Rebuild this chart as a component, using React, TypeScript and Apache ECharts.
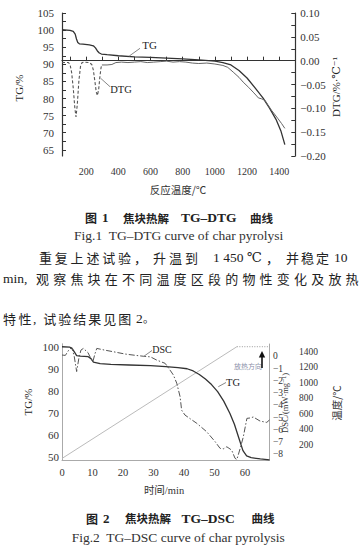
import React, { useEffect, useRef } from "react";
import * as echarts from "echarts";

// ---------- Figure 1 (TG-DTG vs temperature) ----------
const fig1TgTemp = [50, 100, 120, 132, 140, 148, 158, 180, 220, 245, 258, 270, 282, 295, 330, 400, 500, 600, 700, 800, 900, 1000, 1050, 1100, 1150, 1200, 1250, 1300, 1340, 1380, 1410, 1435];
const fig1TgVal = [100.1, 99.9, 99.6, 98.8, 97.4, 96.4, 96.0, 95.9, 95.7, 95.4, 94.8, 93.9, 93.3, 93.0, 92.8, 92.5, 92.2, 92.0, 91.8, 91.6, 91.3, 90.9, 90.5, 89.8, 88.2, 86.0, 83.1, 80.1, 77.2, 73.9, 70.6, 66.5];

const fig1DtgTemp = [50, 90, 100, 110, 120, 130, 137, 145, 155, 165, 175, 190, 220, 235, 245, 255, 263, 270, 278, 286, 293, 298, 330, 360, 385, 420, 460, 500, 540, 580, 620, 660, 700, 740, 780, 820, 860, 900, 950, 1000, 1050, 1080, 1114, 1150, 1176, 1210, 1238, 1260, 1270, 1290, 1311, 1330, 1352, 1375, 1393, 1415, 1435];
const fig1DtgVal = [-0.004, -0.004, -0.008, -0.025, -0.058, -0.1, -0.118, -0.092, -0.042, -0.012, -0.004, -0.003, -0.004, -0.008, -0.02, -0.045, -0.066, -0.073, -0.06, -0.032, -0.014, -0.009, -0.009, -0.008, -0.004, -0.003, -0.004, -0.003, -0.002, -0.004, -0.003, -0.002, -0.001, -0.003, -0.002, -0.003, -0.005, -0.006, -0.005, -0.007, -0.01, -0.014, -0.024, -0.035, -0.045, -0.056, -0.066, -0.074, -0.078, -0.08, -0.083, -0.093, -0.104, -0.114, -0.122, -0.132, -0.142];
const fig1DashedUntil = 298; // DTG drawn dashed in the early peaks

// ---------- Figure 2 (TG-DSC vs time) ----------
const fig2TgTime = [0, 2.6, 3.4, 4.2, 4.8, 6, 8.6, 9.5, 10.3, 12.5, 16, 22, 29, 34, 38, 41, 43, 45, 47, 49, 51, 53, 55, 56.5, 58, 59.3, 60.5, 62, 65, 68];
const fig2TgVal = [100.2, 100, 99.2, 97.5, 96.2, 95.9, 95.7, 94.8, 93.2, 92.5, 92.2, 91.9, 91.6, 91.2, 90.7, 90.2, 89.2, 87.6, 85.5, 83.0, 79.8, 75.5, 70.0, 65.0, 58.5, 53.0, 50.6, 49.8, 49.2, 48.8];

const fig2DscTime = [0, 1.1, 2.2, 3.2, 4.0, 4.8, 5.5, 6.2, 7.0, 8.5, 9.5, 10.1, 10.8, 11.4, 14, 16.8, 20.7, 24.5, 26.7, 29, 31, 33.8, 35.4, 36.5, 37.6, 38.7, 39.2, 40.3, 42, 44.2, 47.4, 50.2, 51.8, 53, 54, 55.6, 56.7, 57.3, 58.4, 59.4, 60.6, 61.6, 62.7, 64.9, 67.1, 68];
const fig2DscVal = [0.1, 0.07, 0.5, 0.73, 0.0, -1.25, -0.2, 0.5, 0.64, 0.3, -0.2, -0.45, 0.2, 0.64, 0.5, 0.37, 0.18, 0.06, 0.0, -0.05, -0.31, -0.58, -1.13, -1.53, -2.2, -3.3, -4.4, -4.8, -5.1, -5.48, -6.16, -6.98, -7.52, -7.55, -7.39, -7.66, -8.33, -8.43, -7.52, -6.6, -5.07, -5.04, -4.96, -5.29, -5.4, -5.2];

const furnaceTime = [0, 57.3, 68];
const furnaceTemp = [20, 1465, 1465];

// tick label sets
const fig1XLabels = [200, 400, 600, 800, 1000, 1200, 1400];
const fig2XLabels = [0, 10, 20, 30, 40, 50, 60];
const fig2TempLabels = [200, 400, 600, 800, 1000, 1200, 1400];

const SERIF = "'Liberation Serif', 'Times New Roman', 'DejaVu Serif', 'Noto Sans CJK SC', serif";
const CJK = "'Noto Sans CJK SC', sans-serif";
const INK = "#222";
const AX1 = "#333";
const AX2 = "#aaa";

const pairs = (xs: number[], ys: number[]) => xs.map((x, i) => [x, ys[i]]);
const minus = (v: number, d: number) => {
  const s = Math.abs(v).toFixed(d);
  return v < -1e-9 ? "\u2212" + s : s;
};

function txt(x: number, y: number, text: string, size: number, o: any = {}) {
  return {
    type: "text",
    x,
    y,
    rotation: o.rot || 0,
    silent: true,
    z: 100,
    style: {
      text,
      fontSize: size,
      fontFamily: o.family || SERIF,
      fontWeight: o.weight || "normal",
      fill: o.fill || INK,
      textAlign: o.align || "left",
      align: o.align || "left",
      textVerticalAlign: "middle",
      verticalAlign: "middle",
    },
  };
}
function spread(str: string, x0: number, pitch: number, y: number, size: number, o: any = {}) {
  return Array.from(str).map((ch, i) => txt(x0 + i * pitch, y, ch, size, { family: CJK, ...o }));
}
function seg(x1: number, y1: number, x2: number, y2: number, color = "#888", w = 1) {
  return { type: "line", silent: true, z: 100, shape: { x1, y1, x2, y2 }, style: { stroke: color, lineWidth: w } };
}

function buildOption() {
  const tg1 = pairs(fig1TgTemp, fig1TgVal);
  const dtgAll = pairs(fig1DtgTemp, fig1DtgVal);
  const dtgEarly = dtgAll.filter((p) => p[0] <= fig1DashedUntil);
  const dtgLate = dtgAll.filter((p) => p[0] >= fig1DashedUntil);
  const tg2 = pairs(fig2TgTime, fig2TgVal);
  const dsc = pairs(fig2DscTime, fig2DscVal);
  const furnace = pairs(furnaceTime, furnaceTemp);

  const lbl1 = { fontFamily: SERIF, color: AX1 };
  const noSplit = { show: false };

  const graphics: any[] = [
    // Figure 1 axis names
    txt(19, 88, "TG/%", 11, { rot: Math.PI / 2, align: "center" }),
    txt(336, 87, "DTG/%·℃⁻¹", 11, { rot: Math.PI / 2, align: "center" }),
    txt(178, 189, "反应温度/℃", 10.5, { align: "center", family: CJK, fill: "#333" }),
    // Figure 1 curve labels
    seg(129.3, 56, 140, 48.3),
    txt(149.5, 45, "TG", 11, { align: "center" }),
    seg(100.7, 78.3, 110, 86.7),
    txt(121, 89.5, "DTG", 10.5, { align: "center" }),
    // Figure 1 captions
    txt(85, 217.7, "图", 12, { family: CJK, weight: "bold" }),
    txt(102, 217.7, "1", 13, { weight: "bold" }),
    txt(123, 217.7, "焦块热解", 11.5, { family: CJK, weight: "bold" }),
    txt(181, 217.7, "TG–DTG", 13.5, { weight: "bold" }),
    txt(250, 217.7, "曲线", 11.5, { family: CJK, weight: "bold" }),
    txt(74, 235.5, "Fig.1  TG–DTG curve of char pyrolysi", 13.5, { fill: "#333" }),
    // paragraph
    ...spread("重复上述试验", 39, 15.8, 257.5, 13),
    txt(134, 257.5, "，", 13, { family: CJK }),
    ...spread("升温到", 153, 16, 257.5, 13),
    txt(213, 257.5, "1 450 ℃", 13.5),
    txt(266, 257.5, "，", 13, { family: CJK }),
    ...spread("并稳定", 286, 15, 257.5, 13),
    txt(334, 257.5, "10", 13.5),
    txt(3, 278.5, "min,", 13.5),
    ...spread("观察焦块在不同温度区段的物性变化及放热", 36, 17.2, 278.5, 13),
    ...spread("特性", 3, 15.5, 318, 13),
    txt(33, 318, ",", 13.5),
    ...spread("试验结果见图", 43.3, 15, 318, 13),
    txt(136, 318, "2", 13.5),
    txt(143, 318, "。", 11, { family: CJK }),
    // Figure 2 axis names
    txt(28, 402, "TG/%", 11, { rot: Math.PI / 2, align: "center" }),
    txt(284.5, 403, "DSC/(mW·mg⁻¹)", 8.5, { rot: Math.PI / 2, align: "center", fill: "#333" }),
    txt(336, 403, "温度/℃", 10.5, { rot: Math.PI / 2, align: "center", family: CJK, fill: "#333" }),
    txt(164, 490, "时间/min", 10.5, { align: "center", fill: "#333" }),
    // Figure 2 curve labels
    seg(143.3, 356.7, 152, 350.5),
    txt(162, 349, "DSC", 10, { align: "center" }),
    seg(218.3, 386.7, 226, 382.5),
    txt(233, 382, "TG", 10.5, { align: "center" }),
    txt(248, 365.5, "放热方向", 7, { align: "center", family: CJK, fill: "#8a8fa8" }),
    seg(262, 368, 262, 355, "#111", 1.6),
    { type: "polygon", silent: true, z: 100, shape: { points: [[258.8, 357.5], [262, 351], [265.2, 357.5]] }, style: { fill: "#111" } },
    // Figure 2 captions
    txt(86, 518, "图", 12, { family: CJK, weight: "bold" }),
    txt(103, 518, "2", 13, { weight: "bold" }),
    txt(125, 518, "焦块热解", 11.5, { family: CJK, weight: "bold" }),
    txt(181.5, 518, "TG–DSC", 13.5, { weight: "bold" }),
    txt(251.5, 518, "曲线", 11.5, { family: CJK, weight: "bold" }),
    txt(71.7, 537, "Fig.2  TG–DSC curve of char pyrolysis", 13.5, { fill: "#333" }),
  ];

  return {
    animation: false,
    backgroundColor: "#fff",
    grid: [
      { left: 62, right: 65.7, top: 13, height: 143 },
      { left: 62, right: 65.7, top: 13, height: 136.8 },
      { left: 62, right: 91.5, top: 344, height: 116 },
      { left: 62, right: 91.5, top: 347.2, height: 110 },
      { left: 62, right: 91.5, top: 344, height: 110.25 },
    ],
    xAxis: [
      {
        gridIndex: 0, type: "value", min: 50, max: 1500, splitNumber: 15,
        axisLine: { lineStyle: { color: AX1, width: 1.2 } },
        axisTick: { inside: true, length: 4, lineStyle: { color: AX1 } },
        axisLabel: { ...lbl1, fontSize: 10, margin: 10, formatter: (v: number) => (fig1XLabels.includes(v) ? String(v) : "") },
        splitLine: noSplit,
      },
      { gridIndex: 1, type: "value", min: 50, max: 1500, show: false },
      {
        gridIndex: 2, type: "value", min: 0, max: 68, interval: 10,
        axisLine: { lineStyle: { color: AX2, width: 1 } },
        axisTick: { show: false },
        axisLabel: { fontFamily: SERIF, color: "#333", fontSize: 10.5, margin: 7, formatter: (v: number) => (fig2XLabels.includes(v) ? String(v) : "") },
        splitLine: noSplit,
      },
      { gridIndex: 3, type: "value", min: 0, max: 68, show: false },
      { gridIndex: 4, type: "value", min: 0, max: 68, show: false },
    ],
    yAxis: [
      {
        gridIndex: 0, type: "value", position: "right", min: -0.2, max: 0.1, interval: 0.025,
        axisLine: { show: true, lineStyle: { color: AX1, width: 1.2 } },
        axisTick: { show: true, inside: true, length: 4, lineStyle: { color: AX1 } },
        axisLabel: {
          ...lbl1, fontSize: 11, margin: 5,
          formatter: (v: number) => {
            const k = v / 0.05;
            return Math.abs(k - Math.round(k)) < 1e-6 ? minus(v, 2) : "";
          },
        },
        splitLine: noSplit,
      },
      {
        gridIndex: 0, type: "value", position: "left", min: -0.2, max: 0.1,
        axisLine: { show: true, lineStyle: { color: AX1, width: 1.2 } },
        axisTick: { show: false }, axisLabel: { show: false }, splitLine: noSplit,
      },
      {
        gridIndex: 1, type: "value", position: "left", min: 65, max: 105, interval: 2.5,
        axisLine: { show: false },
        axisTick: { show: true, inside: true, length: 4, lineStyle: { color: AX1 } },
        axisLabel: { ...lbl1, fontSize: 11, margin: 8, formatter: (v: number) => (Math.abs(v % 5) < 1e-6 ? String(v) : "") },
        splitLine: noSplit,
      },
      {
        gridIndex: 2, type: "value", position: "right", offset: 27.5, min: 0, max: 1500, interval: 200,
        axisLine: { show: true, lineStyle: { color: AX2, width: 1 } },
        axisTick: { show: false },
        axisLabel: { fontFamily: SERIF, color: "#333", fontSize: 9.5, margin: 2, formatter: (v: number) => (fig2TempLabels.includes(v) ? String(v) : "") },
        splitLine: noSplit,
      },
      {
        gridIndex: 2, type: "value", position: "left", min: 0, max: 1500,
        axisLine: { show: true, lineStyle: { color: AX2, width: 1 } },
        axisTick: { show: false }, axisLabel: { show: false }, splitLine: noSplit,
      },
      {
        gridIndex: 2, type: "value", position: "right", offset: 0, min: 0, max: 1500,
        axisLine: { show: true, lineStyle: { color: AX2, width: 1 } },
        axisTick: { show: false }, axisLabel: { show: false }, splitLine: noSplit,
      },
      {
        gridIndex: 3, type: "value", position: "left", min: 50, max: 100, interval: 10,
        axisLine: { show: false }, axisTick: { show: false },
        axisLabel: { fontFamily: SERIF, color: "#333", fontSize: 11, margin: 3 },
        splitLine: noSplit,
      },
      {
        gridIndex: 4, type: "value", position: "right", min: -8, max: 1, interval: 1,
        axisLine: { show: false }, axisTick: { show: false },
        axisLabel: { fontFamily: SERIF, color: "#333", fontSize: 9.5, margin: 3.5, formatter: (v: number) => (v <= 0 ? minus(v, 0) : "") },
        splitLine: noSplit,
      },
    ],
    series: [
      { type: "line", xAxisIndex: 1, yAxisIndex: 2, data: tg1, symbol: "none", clip: false, silent: true, lineStyle: { color: "#333", width: 1.3 } },
      { type: "line", xAxisIndex: 0, yAxisIndex: 0, data: dtgEarly, symbol: "none", clip: false, silent: true, lineStyle: { color: "#555", width: 1.1, type: [3, 2] } },
      { type: "line", xAxisIndex: 0, yAxisIndex: 0, data: dtgLate, symbol: "none", clip: false, silent: true, lineStyle: { color: "#666", width: 1 } },
      { type: "line", xAxisIndex: 2, yAxisIndex: 3, data: furnace.slice(0, 2), symbol: "none", clip: false, silent: true, lineStyle: { color: "#bbb", width: 1 } },
      { type: "line", xAxisIndex: 2, yAxisIndex: 3, data: furnace.slice(1), symbol: "none", clip: false, silent: true, lineStyle: { color: "#999", width: 1, type: [1, 1.5] } },
      { type: "line", xAxisIndex: 3, yAxisIndex: 6, data: tg2, symbol: "none", clip: false, silent: true, lineStyle: { color: "#333", width: 1.3 } },
      { type: "line", xAxisIndex: 4, yAxisIndex: 7, data: dsc, symbol: "none", clip: false, silent: true, lineStyle: { color: "#555", width: 1, type: [6, 2, 1.5, 2] } },
    ],
    graphic: { elements: graphics },
  };
}

export default function App() {
  const ref = useRef<HTMLDivElement>(null);
  useEffect(() => {
    if (!ref.current) return;
    const chart = echarts.init(ref.current, null, { renderer: "svg" });
    chart.setOption(buildOption() as any);
    return () => chart.dispose();
  }, []);
  return (
    <div
      ref={ref}
      style={{ position: "absolute", left: 0, top: 0, width: 361, height: 550, background: "#fff" }}
    />
  );
}
